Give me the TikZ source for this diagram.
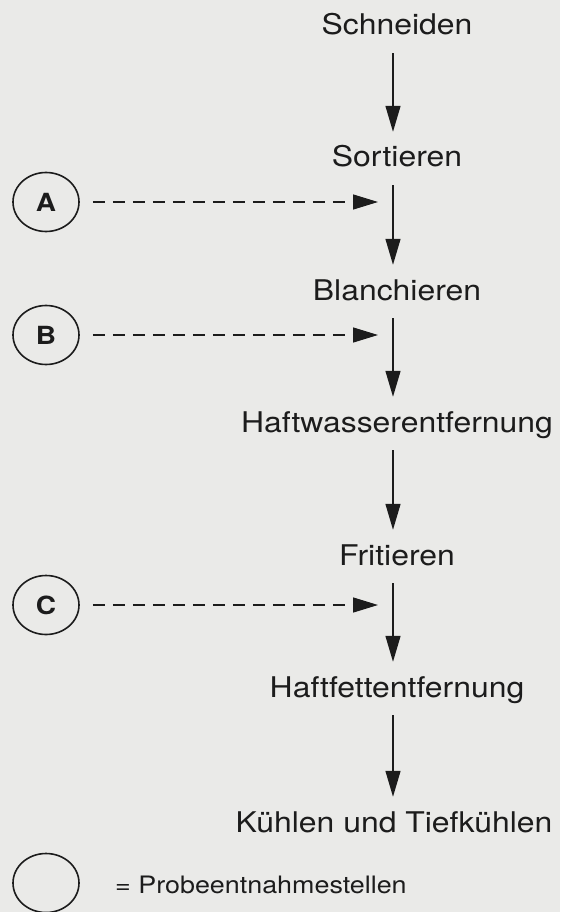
\documentclass[tikz,border=0pt]{standalone}
\usepackage{fontspec}
\usepackage{graphicx}
\setmainfont{TeX Gyre Heros}
\usetikzlibrary{arrows.meta,shapes.geometric}
\definecolor{bg}{RGB}{234,234,232}
\definecolor{ink}{RGB}{28,28,28}
\newcommand\wtext[1]{\scalebox{1.12}[1]{#1}}
\begin{document}
\begin{tikzpicture}[x=1pt,y=-1pt,
  stepnode/.style={anchor=base, inner sep=0pt, text height=20pt, text depth=0pt,
    font=\fontsize{28.5}{30}\selectfont, text=ink},
  probe/.style={ellipse, draw=ink, line width=1.6pt, minimum width=66pt,
    minimum height=59pt, inner sep=0pt, font=\fontsize{25}{28}\selectfont\bfseries, text=ink},
  flow/.style={draw=ink, line width=1.4pt, -{Triangle[length=26pt,width=15pt]},
    shorten <=18pt, shorten >=15pt},
  sample/.style={draw=ink, line width=1.4pt, dash pattern=on 12pt off 8pt,
    -{Triangle[length=25pt,width=15pt]}, shorten <=13pt},
  legendtext/.style={anchor=base west, inner sep=0pt, font=\fontsize{24}{26}\selectfont, text=ink}
]
\useasboundingbox (0,0) rectangle (560,912);
\fill[bg] (0,0) rectangle (560,912);

\coordinate (ax) at (393,0);
\coordinate (tx) at (378,0);

\node[stepnode] (s1) at (397,35) {\wtext{Schneiden}};
\node[stepnode] (s2) at (397,167) {\wtext{Sortieren}};
\node[stepnode] (s3) at (397,300) {\wtext{Blanchieren}};
\node[stepnode] (s4) at (397,432) {\wtext{Haftwasserentfernung}};
\node[stepnode] (s5) at (397,565) {\wtext{Fritieren}};
\node[stepnode] (s6) at (397,697) {\wtext{Haftfettentfernung}};
\node[stepnode] (s7) at (394,832) {\wtext{Kühlen und Tiefkühlen}};

\draw[flow] (s1.south -| ax) -- (s2.north -| ax);
\draw[flow] (s2.south -| ax) -- (s3.north -| ax);
\draw[flow] (s3.south -| ax) -- (s4.north -| ax);
\draw[flow] (s4.south -| ax) -- (s5.north -| ax);
\draw[flow] (s5.south -| ax) -- (s6.north -| ax);
\draw[flow] (s6.south -| ax) -- (s7.north -| ax);

\node[probe] (A) at (46,202) {\wtext{A}};
\node[probe] (B) at (46,335) {\wtext{B}};
\node[probe] (C) at (46,605) {\wtext{C}};
\coordinate (tA) at (A -| tx);
\coordinate (tB) at (B -| tx);
\coordinate (tC) at (C -| tx);
\draw[sample] (A) -- (tA);
\draw[sample] (B) -- (tB);
\draw[sample] (C) -- (tC);

\node[probe] (L) at (46,883) {};
\node[legendtext] (lt) at (115,893) {\wtext{= Probeentnahmestellen}};
\end{tikzpicture}
\end{document}
